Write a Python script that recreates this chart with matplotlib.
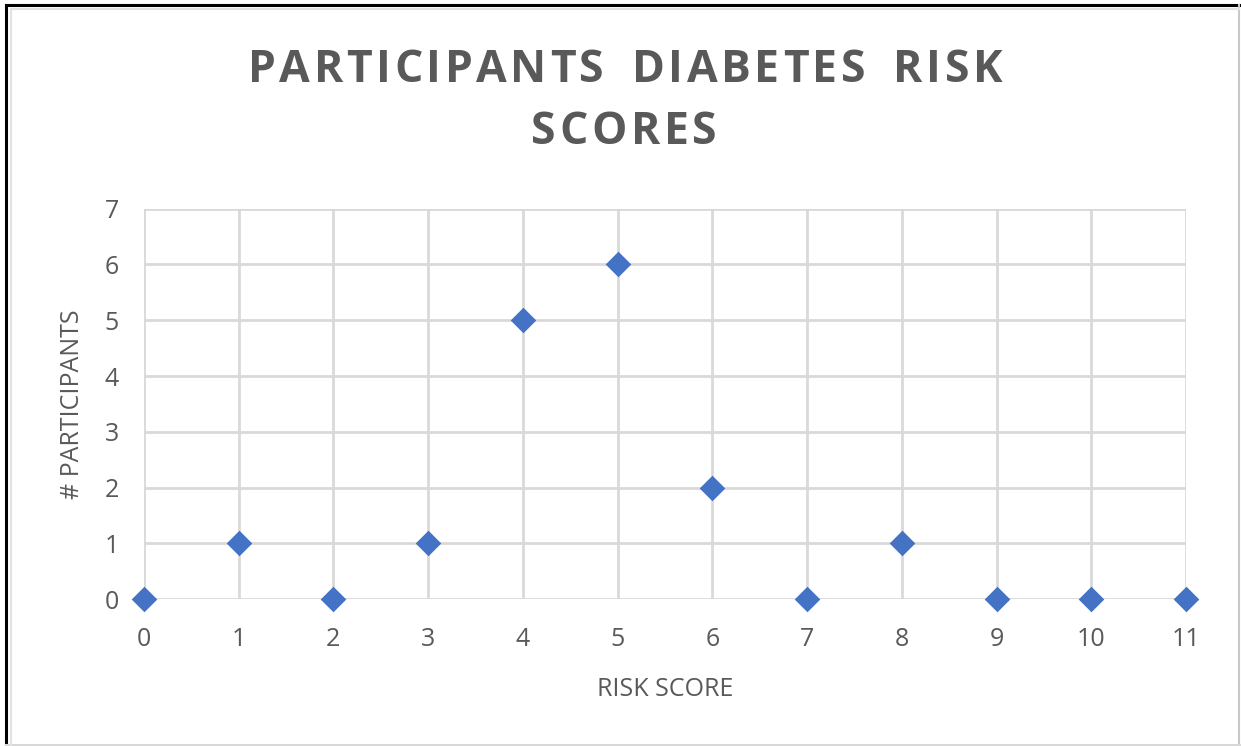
import matplotlib.pyplot as plt
from matplotlib.lines import Line2D
from matplotlib.font_manager import FontProperties

# risk score vs number of participants
risk_score = [0, 1, 2, 3, 4, 5, 6, 7, 8, 9, 10, 11]
n_participants = [0, 1, 0, 1, 5, 6, 2, 0, 1, 0, 0, 0]
y_ticks = [0, 1, 2, 3, 4, 5, 6, 7]
title_lines = ['PARTICIPANTS DIABETES RISK', 'SCORES']

txt_col = '#595959'
grid_col = '#d9d9d9'

plt.rcParams['font.family'] = ['Open Sans', 'DejaVu Sans']

W, H = 1241, 746
fig = plt.figure(figsize=(W / 100, H / 100), dpi=100)


def spaced_text(fig, xc, yc, s, spacing, size, weight='normal', word_gap=0):
    # draws s centred at (xc, yc) pixels with extra space between letters
    r = fig.canvas.get_renderer()
    fp = FontProperties(family=['Open Sans'], size=size, weight=weight)
    widths = []
    for ch in s:
        w, h, d = r.get_text_width_height_descent(ch, fp, ismath=False)
        widths.append(w + (word_gap if ch == ' ' else 0))
    total = sum(widths) + spacing * (len(s) - 1)
    x = xc - total / 2
    for ch, w in zip(s, widths):
        fig.text(x / W, 1 - yc / H, ch, ha='left', va='center',
                 fontproperties=fp, color=txt_col)
        x += w + spacing


# outer frame: dark on top/left, light on right/bottom
fig.lines.append(Line2D([0.005, 0.999], [0.993, 0.993], transform=fig.transFigure,
                        color='black', linewidth=2.2))
fig.lines.append(Line2D([0.005, 0.005], [0.0, 0.993], transform=fig.transFigure,
                        color='black', linewidth=2.2))
fig.lines.append(Line2D([0.9985, 0.9985], [0.0, 0.993], transform=fig.transFigure,
                        color='#c8c8c8', linewidth=1.5))
fig.lines.append(Line2D([0.005, 0.999], [0.001, 0.001], transform=fig.transFigure,
                        color='#d8d8d8', linewidth=1.5))
fig.lines.append(Line2D([0.0085, 0.0085], [0.0, 0.988], transform=fig.transFigure,
                        color='#e2e2e2', linewidth=1.5))
fig.lines.append(Line2D([0.0085, 0.998], [0.988, 0.988], transform=fig.transFigure,
                        color='#e2e2e2', linewidth=1.5))

ax = fig.add_axes([0.116, 0.197, 0.8397, 0.5232])
ax.scatter(risk_score, n_participants, marker='D', s=170, color='#4472C4',
           zorder=3, clip_on=False, linewidths=0)

ax.set_xlim(0, 11)
ax.set_ylim(0, 7)
ax.set_xticks(risk_score)
ax.set_yticks(y_ticks)
ax.grid(True, color=grid_col, linewidth=2)
ax.set_axisbelow(True)
for s in ax.spines.values():
    s.set_visible(False)
ax.tick_params(axis='x', length=0, labelsize=18, labelcolor=txt_col, pad=20)
ax.tick_params(axis='y', length=0, labelsize=18, labelcolor=txt_col, pad=18)

ax.set_xlabel('RISK SCORE', fontsize=18, color=txt_col, labelpad=18)
ax.set_ylabel('# PARTICIPANTS', fontsize=18, color=txt_col, labelpad=14)

spaced_text(fig, 625, 70, title_lines[0], 3.6, 32, weight='bold', word_gap=9)
spaced_text(fig, 624, 133, title_lines[1], 3.6, 32, weight='bold')

fig.savefig('out.png', dpi=100)
